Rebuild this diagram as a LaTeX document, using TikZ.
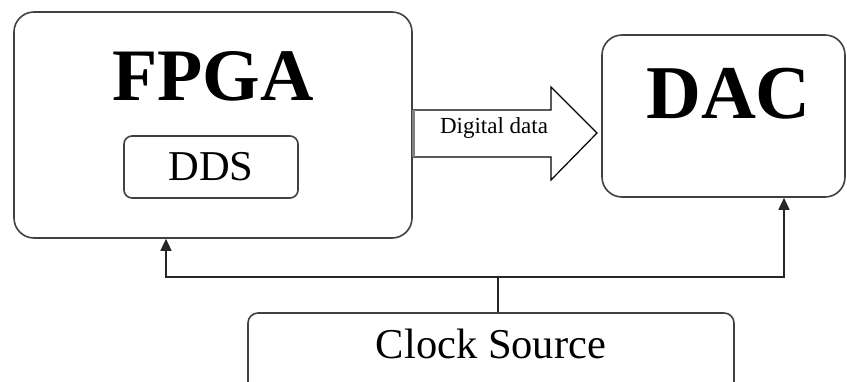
\documentclass[tikz,border=0pt]{standalone}
\usepackage{fontspec}
\setmainfont{Liberation Serif}
\usetikzlibrary{arrows.meta}
\begin{document}
\begin{tikzpicture}[x=1pt,y=-1pt,
		block/.style={rectangle, rounded corners=20pt, draw=black!75, line width=1.6pt},
		subblock/.style={rectangle, rounded corners=8pt, draw=black!75, line width=1.6pt},
		clockline/.style={draw=black!85, line width=1.5pt},
		clockarrow/.style={clockline, -{Triangle[length=12pt,width=11pt]}}]
	\useasboundingbox (0,0) rectangle (847,381);

	\node[block, minimum width=398pt, minimum height=226pt](fpgaBox) at (213,125){};
	\node[font=\fontsize{74}{74}\bfseries\selectfont](fpgaText) at (213,76){FPGA};
	\node[subblock, minimum width=174pt, minimum height=62pt, font=\fontsize{42.5}{42.5}\selectfont](ddsBox) at (211,167){DDS};

	\node[block, minimum width=243pt, minimum height=162pt](dacBox) at (723.5,116){};
	\node[font=\fontsize{76}{76}\bfseries\selectfont](dacText) at (728.5,94){DAC};

	\node[block, rounded corners=10pt, minimum width=486pt, minimum height=100pt](clockBox) at (491,363){};
	\node[font=\fontsize{42.5}{42.5}\selectfont](clockText) at (491,344){Clock Source};

	% digital data arrow
	\draw[draw=black, line width=1.2pt, fill=white] (413,110) -- (551,110) -- (551,87) -- (597,133) -- (551,180) -- (551,157) -- (413,157);
	\draw[draw=black!50, line width=3pt] (413,110) -- (413,157);
	\node[font=\fontsize{23}{23}\selectfont](dataText) at (494,128){Digital data};

	% clock lines
	\draw[clockline] ([xshift=7pt]clockBox.north) -- ++(0,-35) coordinate(split);
	\draw[clockarrow] (split) -| ([xshift=-47pt]fpgaBox.south);
	\draw[clockarrow] (split) -| ([xshift=60.5pt]dacBox.south);
\end{tikzpicture}
\end{document}
